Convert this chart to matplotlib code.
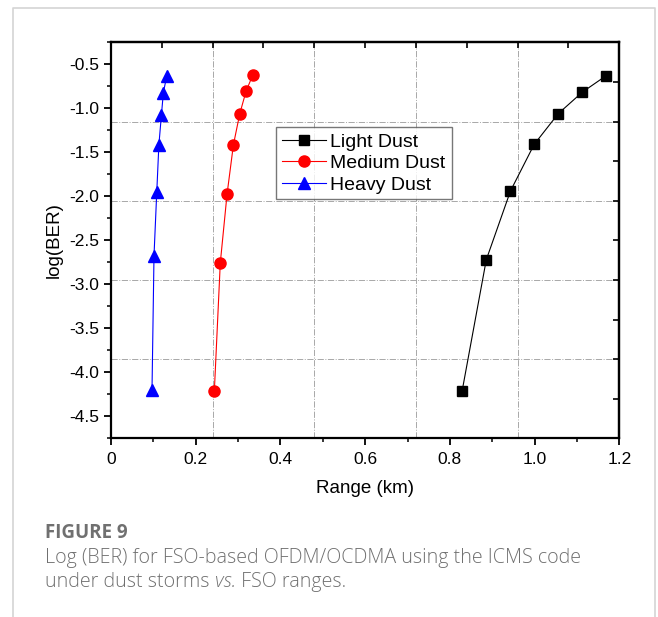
import numpy as np
import matplotlib
matplotlib.use("Agg")
import matplotlib.pyplot as plt
from matplotlib.ticker import MultipleLocator

# data
light_x = [0.829, 0.886, 0.943, 0.999, 1.056, 1.113, 1.169]
light_y = [-4.21, -2.72, -1.94, -1.41, -1.06, -0.815, -0.629]

medium_x = [0.244, 0.258, 0.274, 0.289, 0.304, 0.319, 0.3345]
medium_y = [-4.21, -2.757, -1.974, -1.414, -1.061, -0.803, -0.625]

heavy_x = [0.0968, 0.1015, 0.108, 0.113, 0.119, 0.1236, 0.1315]
heavy_y = [-4.20, -2.675, -1.955, -1.417, -1.076, -0.823, -0.633]

labels = ["Light Dust", "Medium Dust", "Heavy Dust"]
x_ticks = [0, 0.2, 0.4, 0.6, 0.8, 1.0, 1.2]
x_tick_labels = ["0", "0.2", "0.4", "0.6", "0.8", "1.0", "1.2"]
y_ticks = [-0.5, -1.0, -1.5, -2.0, -2.5, -3.0, -3.5, -4.0, -4.5]

xmin, xmax = 0, 1.2
ymin, ymax = -4.75, -0.25

plt.rcParams['font.family'] = ['Liberation Sans', 'DejaVu Sans']
plt.rcParams['axes.unicode_minus'] = False

fig = plt.figure(figsize=(6.58, 6.17), dpi=100)

# outer light frame
fig.add_artist(plt.Line2D([0.0198, 0.0198, 0.9954, 0.9954], [0, 0.987, 0.987, 0],
                          transform=fig.transFigure, color='#d4d4d4', lw=1.2))

ax = fig.add_axes([0.1687, 0.2896, 0.9412 - 0.1687, 0.9314 - 0.2896])

# dash-dot grid splitting the frame into fifths
for gx in np.linspace(xmin, xmax, 6)[1:-1]:
    ax.axvline(gx, color='#a8a8a8', lw=0.7, ls='-.', zorder=0)
for gy in np.linspace(ymin, ymax, 6)[1:-1]:
    ax.axhline(gy, color='#a8a8a8', lw=0.7, ls='-.', zorder=0)

ax.plot(light_x, light_y, color='black', marker='s', ms=7, lw=0.8, label=labels[0])
ax.plot(medium_x, medium_y, color='red', marker='o', ms=8, lw=0.8, label=labels[1])
ax.plot(heavy_x, heavy_y, color='blue', marker='^', ms=8.5, lw=0.8, label=labels[2])

ax.set_xlim(xmin, xmax)
ax.set_ylim(ymin, ymax)
ax.set_xticks(x_ticks)
ax.set_xticklabels(x_tick_labels)
ax.set_yticks(y_ticks)
ax.xaxis.set_minor_locator(MultipleLocator(0.1))
ax.yaxis.set_minor_locator(MultipleLocator(0.25))
ax.tick_params(which='major', direction='out', length=5, width=1.3, labelsize=12.5,
               top=False, right=False)
ax.tick_params(which='minor', direction='out', length=3, width=1.1, top=False, right=False)
ax.tick_params(axis='x', pad=5)

# mirrored ticks on top and right, every tenth of the range
top = ax.secondary_xaxis('top')
top.set_xticks(np.linspace(xmin, xmax, 11)[1:-1])
top.tick_params(direction='in', length=4, width=1.2, labeltop=False)
right = ax.secondary_yaxis('right')
right.set_yticks(np.linspace(ymin, ymax, 11)[1:-1])
right.tick_params(direction='in', length=4, width=1.2, labelright=False)
for a in (ax, top, right):
    for s in a.spines.values():
        s.set_linewidth(1.6)

ax.set_xlabel('Range (km)', fontsize=13.5, labelpad=9)
ax.set_ylabel('log(BER)', fontsize=13.5, labelpad=4.5)

leg = ax.legend(loc='upper left', bbox_to_anchor=(0.3246, 0.786), fontsize=14,
                frameon=True, fancybox=False, edgecolor='#555555', handlelength=2.25,
                handletextpad=0.25, borderpad=0.3, labelspacing=0.2, borderaxespad=0)
leg.get_frame().set_linewidth(1.0)

# caption
cap_color = '#707070'
cap = dict(fontsize=14.1, color=cap_color, family='Open Sans', fontweight='light',
           va='center')
fig.text(45 / 658, 1 - 533 / 617, 'FIGURE 9', fontsize=13.5, fontweight='bold',
         color=cap_color, family='Open Sans', va='center')
fig.text(45 / 658, 1 - 558 / 617, 'Log (BER) for FSO-based OFDM/OCDMA using the ICMS code',
         **cap)

# second line with italic "vs." placed piece by piece
renderer = fig.canvas.get_renderer()
x0 = 45
pieces = [('under dust storms ', 'normal'), ('vs.', 'italic'), (' FSO ranges.', 'normal')]
for txt, style in pieces:
    t = fig.text(x0 / 658, 1 - 582 / 617, txt, fontstyle=style, **cap)
    x0 += t.get_window_extent(renderer).width

fig.savefig('out.png', dpi=100)
